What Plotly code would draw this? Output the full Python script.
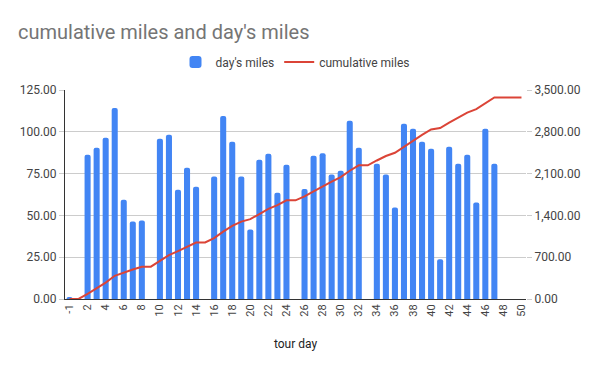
import plotly.graph_objects as go

tour_days = ["-1"] + [str(d) for d in range(1, 51)]
days_miles = [1.2, None, 86.3, 90.5, 96.4, 114.3, 59.4, 46.3, 46.9, None,
              95.8, 98.2, 65.4, 78.5, 67.2, None, 73.2, 109.5, 94.0, 73.2,
              41.6, 83.3, 86.9, 63.6, 80.3, None, 65.8, 85.7, 87.1, 74.4,
              76.7, 106.6, 90.5, None, 80.9, 74.4, 54.7, 104.8, 101.8, 94.0,
              89.9, 23.7, 91.1, 80.9, 86.3, 57.7, 101.8, 80.9, None, None, None]
cumulative_miles = [1.2, 1.2, 87.5, 178.0, 274.4, 388.7, 448.1, 494.4, 541.3, 541.3,
                    637.1, 735.3, 800.7, 879.2, 946.4, 946.4, 1019.6, 1129.1, 1223.1, 1296.3,
                    1337.9, 1421.2, 1508.1, 1571.7, 1652.0, 1652.0, 1717.8, 1803.5, 1890.6, 1965.0,
                    2041.7, 2148.3, 2238.8, 2238.8, 2319.7, 2394.1, 2448.8, 2553.6, 2655.4, 2749.4,
                    2839.3, 2863.0, 2954.1, 3035.0, 3121.3, 3179.0, 3280.8, 3375.0, 3375.0, 3375.0, 3375.0]
tick_labels = ["-1"] + [str(d) for d in range(2, 51, 2)]

fig = go.Figure()
fig.add_trace(go.Bar(x=tour_days, y=days_miles, name="day's miles",
                     marker=dict(color="#4285F4", cornerradius=2, line=dict(width=0))))
fig.add_trace(go.Scatter(x=tour_days, y=cumulative_miles, name="cumulative miles",
                         mode="lines", yaxis="y2",
                         line=dict(color="#DB4437", width=2)))

font_fam = "Roboto, Arial, sans-serif"
W, H = 592, 363  # page body has an 8px margin in the 600x371 window
fig.update_layout(
    width=W, height=H,
    margin=dict(l=55, r=74, t=82, b=72),
    paper_bgcolor="white", plot_bgcolor="white",
    font=dict(family=font_fam, color="#757575", size=12),
    title=dict(text="cumulative miles and day's miles", x=10 / W, xanchor="left",
               y=1 - 24 / H, yanchor="middle", yref="container",
               font=dict(size=20, color="#757575", family=font_fam)),
    legend=dict(orientation="h", x=0.500, xanchor="center", y=1.134, yanchor="middle",
                font=dict(size=12, color="#444444"), bgcolor="rgba(0,0,0,0)"),
    bargap=0.33,
    showlegend=True,
    xaxis=dict(type="category", tickmode="array", tickvals=tick_labels, ticktext=tick_labels,
               tickangle=-90, tickfont=dict(size=11, color="#444444"),
               showgrid=False, showline=True, linecolor="#333333", linewidth=1,
               ticks="", title=dict(text="tour day", font=dict(size=12, color="#222222"), standoff=23)),
    yaxis=dict(range=[0, 125], tickvals=[0, 25, 50, 75, 100, 125], tickformat=".2f",
               showgrid=True, gridcolor="#cccccc", showline=True, linecolor="#333333", linewidth=1,
               ticks="outside", ticklen=5, tickcolor="#cccccc",
               tickfont=dict(size=12, color="#444444"), zeroline=False),
    yaxis2=dict(range=[0, 3500], tickvals=[0, 700, 1400, 2100, 2800, 3500], tickformat=",.2f",
                overlaying="y", side="right", showgrid=False, zeroline=False,
                ticks="outside", ticklen=5, tickcolor="#cccccc",
                tickfont=dict(size=12, color="#444444")),
)

fig.write_html("out.html")
